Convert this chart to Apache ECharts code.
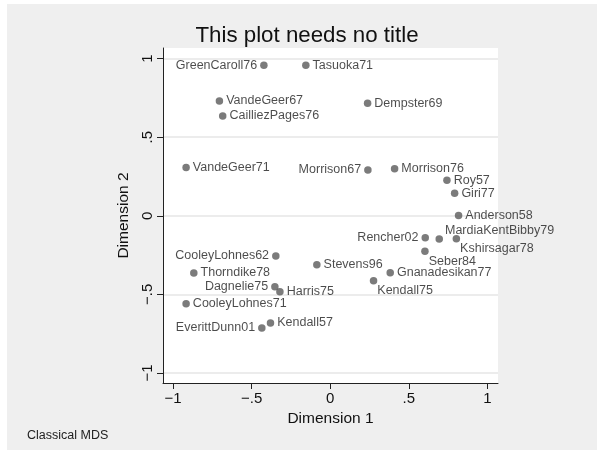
<!DOCTYPE html>
<html>
<head>
<meta charset="utf-8">
<script src="https://cdn.jsdelivr.net/npm/echarts@6/dist/echarts.min.js"></script>
<style>
html,body{margin:0;padding:0;background:#fff;}
#chart{width:597px;height:461px;}
</style>
</head>
<body>
<div id="chart"></div>
<script>
// Data
const names = ["GreenCaroll76","Tasuoka71","VandeGeer67","Dempster69","CailliezPages76",
  "VandeGeer71","Morrison67","Morrison76","Roy57","Giri77","Anderson58",
  "Rencher02","MardiaKentBibby79","Kshirsagar78","Seber84","Gnanadesikan77","Kendall75",
  "CooleyLohnes62","Stevens96","Thorndike78","Dagnelie75","Harris75","CooleyLohnes71",
  "Kendall57","EverittDunn01"];
const dim1 = [-0.422,-0.155,-0.705,0.238,-0.684,
  -0.917,0.240,0.410,0.743,0.792,0.817,
  0.605,0.694,0.803,0.603,0.382,0.276,
  -0.346,-0.085,-0.868,-0.352,-0.320,-0.917,
  -0.380,-0.435];
const dim2 = [0.958,0.958,0.731,0.716,0.636,
  0.307,0.292,0.299,0.227,0.144,0.002,
  -0.140,-0.148,-0.146,-0.225,-0.362,-0.413,
  -0.256,-0.311,-0.364,-0.451,-0.483,-0.559,
  -0.682,-0.714];
const tickValues = [-1,-0.5,0,0.5,1];
const tickLabels = ["\u22121","\u2212.5","0",".5","1"];

// Label placement (style), keyed by name; default is to the right
const labelLeft = ["GreenCaroll76","Morrison67","Rencher02","CooleyLohnes62","Dagnelie75","EverittDunn01"];
const labelUpRight = ["MardiaKentBibby79"];
const labelDownRight = ["Kshirsagar78","Seber84","Kendall75"];

function labelFor(n){
  if (labelLeft.includes(n)) return {position:'left', distance:3};
  if (labelUpRight.includes(n)) return {position:[9.5,-4.5], align:'left', verticalAlign:'middle'};
  if (labelDownRight.includes(n)) return {position:[7.5,14], align:'left', verticalAlign:'middle'};
  return {position:'right', distance:3};
}
const points = names.map((n,i)=>({name:n, value:[dim1[i],dim2[i]], label:labelFor(n)}));

function fmt(v){
  const i = tickValues.findIndex(t=>Math.abs(t-v)<1e-9);
  return i>=0 ? tickLabels[i] : '';
}

const chart = echarts.init(document.getElementById('chart'), null, {renderer:'canvas'});
const font = 'Liberation Sans, Arial, sans-serif';
chart.setOption({
  backgroundColor:'#ffffff',
  animation:false,
  graphic:[
    {type:'rect', z:-10, silent:true, shape:{x:7,y:4,width:590,height:446}, style:{fill:'#efefef'}},
    {type:'rect', z:-9, silent:true, shape:{x:163,y:48,width:335,height:335}, style:{fill:'#ffffff'}},
    {type:'text', left:27, top:429, style:{text:'Classical MDS', font:'12.5px '+font, fill:'#222'}}
  ],
  title:{
    text:'This plot needs no title', left:302, top:20, textAlign:'center',
    textStyle:{fontFamily:font, fontSize:22.3, fontWeight:'normal', color:'#111'}
  },
  grid:{left:163, top:48, right:99, bottom:78, containLabel:false},
  xAxis:{
    type:'value', min:-1.064, max:1.068,
    name:'Dimension 1', nameLocation:'middle', nameGap:28,
    nameTextStyle:{fontFamily:font, fontSize:15.5, color:'#111'},
    axisLine:{show:true, onZero:false, lineStyle:{color:'#222', width:1}},
    axisTick:{show:true, length:6, customValues:tickValues, lineStyle:{color:'#222'}},
    axisLabel:{customValues:tickValues, formatter:fmt, fontFamily:font, fontSize:15, color:'#111', margin:8},
    splitLine:{show:false}
  },
  yAxis:{
    type:'value', min:-1.064, max:1.068,
    name:'Dimension 2', nameLocation:'middle', nameGap:29, nameRotate:90,
    nameTextStyle:{fontFamily:font, fontSize:15.5, color:'#111'},
    axisLine:{show:true, onZero:false, lineStyle:{color:'#222', width:1}},
    axisTick:{show:true, length:6, customValues:tickValues, lineStyle:{color:'#222'}},
    axisLabel:{customValues:tickValues, formatter:fmt, rotate:90, fontFamily:font, fontSize:15, color:'#111', margin:8},
    splitLine:{show:true, lineStyle:{color:'#e6e6e6', width:1.5}}
  },
  series:[{
    type:'scatter',
    symbol:'circle', symbolSize:7.5,
    itemStyle:{color:'#5a5a5a'},
    label:{show:true, formatter:'{b}', fontFamily:font, fontSize:12.5, color:'#1e1e1e'},
    data:points
  }]
});
</script>
</body>
</html>
